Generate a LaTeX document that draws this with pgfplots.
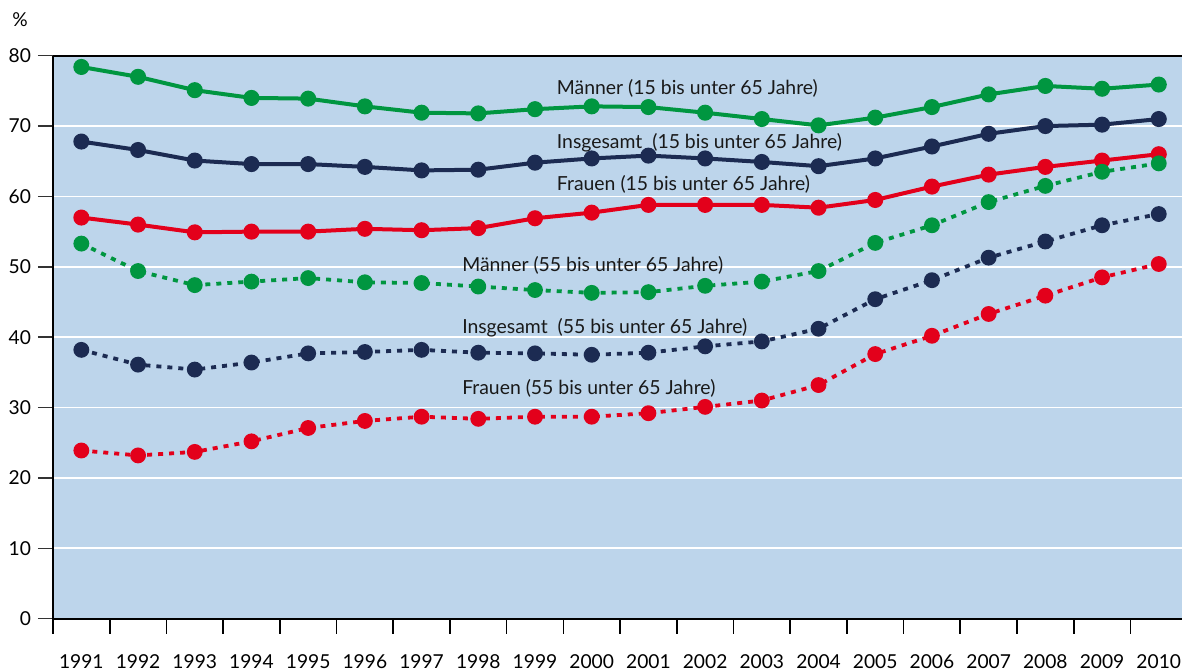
\documentclass[border=0pt]{standalone}
\usepackage{pgfplots}
\pgfplotsset{compat=1.18}
\usepackage{fontspec}
\setmainfont{Lato}
\definecolor{cgreen}{HTML}{009640}
\definecolor{cnavy}{HTML}{1C2B52}
\definecolor{cred}{HTML}{E3001B}
\definecolor{cbg}{HTML}{BDD5EB}
\pgfplotstableread{
x m15 i15 f15 m55 i55 f55
0 78.4 67.8 57.0 53.3 38.2 23.9
1 77.0 66.6 56.0 49.4 36.1 23.2
2 75.1 65.1 54.9 47.4 35.4 23.7
3 74.0 64.6 55.0 47.9 36.4 25.2
4 73.9 64.6 55.0 48.4 37.7 27.1
5 72.8 64.2 55.4 47.8 37.9 28.1
6 71.9 63.7 55.2 47.7 38.2 28.7
7 71.8 63.8 55.5 47.2 37.8 28.4
8 72.4 64.8 56.9 46.7 37.7 28.7
9 72.8 65.4 57.7 46.3 37.5 28.7
10 72.7 65.8 58.8 46.4 37.8 29.2
11 71.9 65.4 58.8 47.3 38.7 30.1
12 71.0 64.9 58.8 47.9 39.4 31.0
13 70.1 64.3 58.4 49.4 41.2 33.2
14 71.2 65.4 59.5 53.4 45.4 37.6
15 72.7 67.1 61.4 55.9 48.1 40.2
16 74.5 68.9 63.1 59.2 51.3 43.3
17 75.7 70.0 64.2 61.5 53.6 45.9
18 75.3 70.2 65.1 63.5 55.9 48.5
19 75.9 71.0 66.0 64.7 57.5 50.4
}\datatable
\begin{document}
\begin{tikzpicture}
\begin{axis}[
  scale only axis,
  width=564.5pt, height=281.5pt,
  xmin=-0.5, xmax=19.41,
  ymin=0, ymax=80,
  axis background/.style={fill=cbg},
  axis x line=box, axis y line=left,
  axis line style={black, line width=0.9pt, -},
  xtick={0,...,19},
  xticklabels={1991,1992,1993,1994,1995,1996,1997,1998,1999,2000,2001,2002,2003,2004,2005,2006,2007,2008,2009,2010},
  major x tick style={draw=none},
  minor xtick={-0.5,0.5,...,18.5},
  minor tick length=7.5pt,
  minor x tick style={black, line width=0.8pt},
  xtick pos=lower,
  ytick={0,10,...,80},
  ytick pos=left,
  major tick length=7.5pt,
  tick align=outside,
  major y tick style={black!80, line width=0.8pt},
  ymajorgrids,
  major grid style={white, line width=0.9pt},
  xticklabel style={font=\fontsize{9.6}{11}\selectfont, inner ysep=0pt, yshift=-10.3pt},
  yticklabel style={font=\fontsize{9.6}{11}\selectfont},
  /pgf/number format/assume math mode=true,
  clip=false,
  every axis plot/.append style={mark=*, mark size=3pt, line width=2pt},
]
\addplot[cgreen, mark options={solid}] table[x=x,y=m15]{\datatable};
\addplot[cnavy, mark options={solid}] table[x=x,y=i15]{\datatable};
\addplot[cred, mark options={solid}] table[x=x,y=f15]{\datatable};
\addplot[cgreen, line width=1.9pt, dash pattern=on 2.5pt off 3pt, mark options={solid}] table[x=x,y=m55]{\datatable};
\addplot[cnavy, line width=1.9pt, dash pattern=on 2.5pt off 3pt, mark options={solid}] table[x=x,y=i55]{\datatable};
\addplot[cred, line width=1.9pt, dash pattern=on 2.5pt off 3pt, mark options={solid}] table[x=x,y=f55]{\datatable};
\begin{scope}[every node/.style={anchor=west, inner sep=0pt, font=\fontsize{9.7}{11}\selectfont, text=black!90}]
\node at (axis cs:8.38,75.3) {Männer (15 bis unter 65 Jahre)};
\node at (axis cs:8.38,67.6) {Insgesamt\ \ (15 bis unter 65 Jahre)};
\node at (axis cs:8.38,61.7) {Frauen (15 bis unter 65 Jahre)};
\node at (axis cs:6.71,50.2) {Männer (55 bis unter 65 Jahre)};
\node at (axis cs:6.71,41.4) {Insgesamt\ \ (55 bis unter 65 Jahre)};
\node at (axis cs:6.71,32.7) {Frauen (55 bis unter 65 Jahre)};
\end{scope}
\node[font=\fontsize{9.6}{11}\selectfont, inner sep=0pt] at ([xshift=-16.5pt,yshift=17.9pt]rel axis cs:0,1) {\%};
\coordinate (sw) at (rel axis cs:0,0);
\coordinate (ne) at (rel axis cs:1,1);
\end{axis}
\pgfresetboundingbox
\path ([xshift=-26.5pt,yshift=-26.6pt]sw) rectangle ([yshift=27.85pt]ne);
\end{tikzpicture}
\end{document}
